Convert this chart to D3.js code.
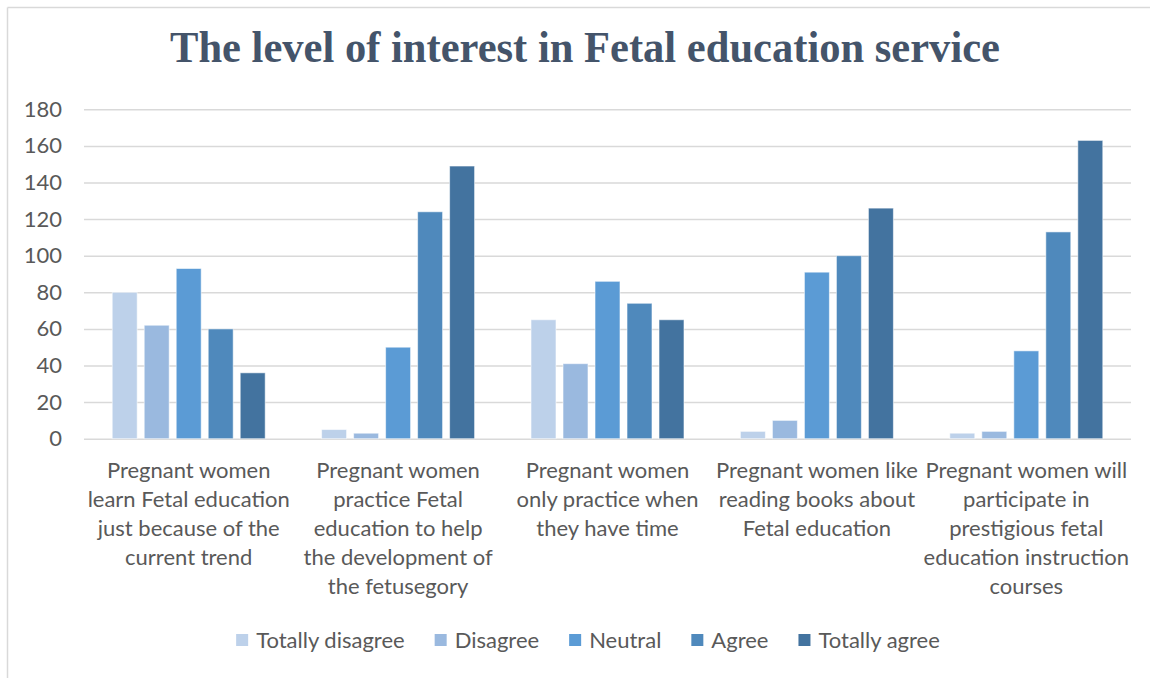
<!DOCTYPE html>
<html>
<head>
<meta charset="utf-8">
<script src="https://cdn.jsdelivr.net/npm/d3@7"></script>
<style>
  html, body { margin: 0; padding: 0; background: #ffffff; }
  svg { display: block; }
</style>
</head>
<body>
<svg id="chart" width="1150" height="678"></svg>
<script>
// Survey responses per statement
const categories = [
  "Pregnant women\nlearn Fetal education\njust because of the\ncurrent trend",
  "Pregnant women\npractice Fetal\neducation to help\nthe development of\nthe fetusegory",
  "Pregnant women\nonly practice when\nthey have time",
  "Pregnant women like\nreading books about\nFetal education",
  "Pregnant women will\nparticipate in\nprestigious fetal\neducation instruction\ncourses"
];
const seriesNames = ["Totally disagree", "Disagree", "Neutral", "Agree", "Totally agree"];
const totallyDisagree = [80, 5, 65, 4, 3];
const disagree        = [62, 3, 41, 10, 4];
const neutral         = [93, 50, 86, 91, 48];
const agree           = [60, 124, 74, 100, 113];
const totallyAgree    = [36, 149, 65, 126, 163];
const yTicks = [0, 20, 40, 60, 80, 100, 120, 140, 160, 180];
const titleText = "The level of interest in Fetal education service";

const seriesValues = [totallyDisagree, disagree, neutral, agree, totallyAgree];
const colors = ["#BDD1EA", "#9AB9DF", "#5B9BD5", "#4F89BC", "#43739F"];

const svg = d3.select("#chart");
const textColor = "#595959";
const fontFamily = "Lato, 'Open Sans', sans-serif";
const labelSize = 22;

// Chart frame (top and left edges fall inside the canvas)
svg.append("line")
  .attr("x1", 7.5).attr("y1", 7.5).attr("x2", 1150).attr("y2", 7.5)
  .attr("stroke", "#D9D9D9").attr("stroke-width", 1.5);
svg.append("line")
  .attr("x1", 7.5).attr("y1", 7.5).attr("x2", 7.5).attr("y2", 678)
  .attr("stroke", "#D9D9D9").attr("stroke-width", 1.5);

// Title
svg.append("text")
  .attr("x", 585).attr("y", 62)
  .attr("text-anchor", "middle")
  .attr("font-family", "'Liberation Serif', 'Times New Roman', serif")
  .attr("font-weight", "bold")
  .attr("font-size", 45)
  .attr("textLength", 830)
  .attr("lengthAdjust", "spacingAndGlyphs")
  .attr("fill", "#44546A")
  .text(titleText);

const plot = { left: 84, right: 1131, top: 109.3, bottom: 438.7 };

const x0 = d3.scaleBand()
  .domain(categories)
  .range([plot.left, plot.right])
  .padding(0);

const innerWidth = 160;
const x1 = d3.scaleBand()
  .domain(seriesNames)
  .range([(x0.bandwidth() - innerWidth) / 2, (x0.bandwidth() + innerWidth) / 2])
  .paddingInner(0.22)
  .paddingOuter(0.11);

const y = d3.scaleLinear()
  .domain([0, 180])
  .range([plot.bottom, plot.top]);

// Gridlines and y labels
const yAxis = d3.axisLeft(y)
  .tickValues(yTicks)
  .tickSize(-(plot.right - plot.left))
  .tickPadding(22)
  .tickFormat(d3.format("d"));

const yg = svg.append("g")
  .attr("transform", `translate(${plot.left},0)`)
  .call(yAxis);
yg.select(".domain").remove();
yg.selectAll(".tick line")
  .attr("stroke", "#D9D9D9")
  .attr("stroke-width", 1.5);
yg.selectAll(".tick text")
  .attr("fill", textColor)
  .attr("font-family", fontFamily)
  .attr("font-size", labelSize);

// Bars
const groups = svg.append("g")
  .selectAll("g")
  .data(categories)
  .join("g")
  .attr("transform", d => `translate(${x0(d)},0)`);

groups.selectAll("rect")
  .data((d, i) => seriesNames.map((s, j) => ({ key: s, value: seriesValues[j][i], color: colors[j] })))
  .join("rect")
  .attr("x", d => x1(d.key))
  .attr("width", x1.bandwidth())
  .attr("y", d => y(d.value))
  .attr("height", d => y(0) - y(d.value))
  .attr("fill", d => d.color)
  .attr("stroke", "rgba(255,255,255,0.55)")
  .attr("stroke-width", 1);

// Category labels
const catLabels = svg.append("g");
categories.forEach(c => {
  const t = catLabels.append("text")
    .attr("text-anchor", "middle")
    .attr("font-family", fontFamily)
    .attr("font-size", labelSize)
    .attr("fill", textColor);
  c.split("\n").forEach((line, k) => {
    t.append("tspan")
      .attr("x", x0(c) + x0.bandwidth() / 2)
      .attr("y", 478 + k * 29)
      .text(line);
  });
});

// Legend
const legend = svg.append("g");
let cursor = 0;
seriesNames.forEach((s, j) => {
  const g = legend.append("g");
  g.append("rect")
    .attr("x", cursor).attr("y", -6)
    .attr("width", 12).attr("height", 12)
    .attr("fill", colors[j]);
  const t = g.append("text")
    .attr("x", cursor + 20).attr("y", 8)
    .attr("font-family", fontFamily)
    .attr("font-size", labelSize)
    .attr("fill", textColor)
    .text(s);
  cursor += 20 + t.node().getComputedTextLength() + 30;
});
const legendWidth = cursor - 30;
legend.attr("transform", `translate(${588 - legendWidth / 2},640)`);
</script>
</body>
</html>
